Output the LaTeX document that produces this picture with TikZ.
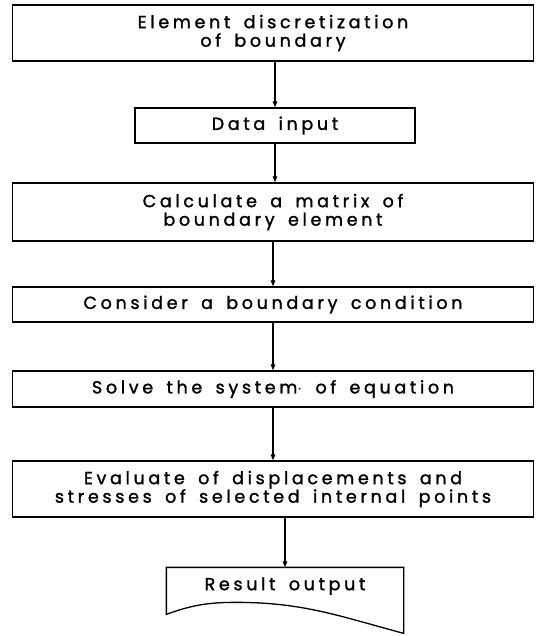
\documentclass[tikz,border=0pt]{standalone}
\usepackage{fontspec}
\setmainfont{Poppins}[LetterSpace=21, WordSpace=1.6, FakeBold=1.5]
\usetikzlibrary{calc, positioning, arrows.meta}

\begin{document}
\begin{tikzpicture}[x=1pt, y=1pt,
  stepbox/.style={draw, line width=1.3pt, inner sep=0pt, align=center,
    minimum width=521pt, font=\fontsize{17.5}{18.5}\selectfont},
  flow/.style={line width=1.2pt, -{Triangle[length=6pt, width=4.5pt]}}]
  \useasboundingbox (0,0) rectangle (545,-636);

  % Steps of the program
  \node[stepbox, minimum height=56pt] (elem) at (273,-33)
    {Element discretization\\of boundary};
  \node[stepbox, minimum width=280pt, minimum height=35pt] (data) at (275,-125.5)
    {Data input};
  \node[stepbox, minimum height=58pt] (calc) at (273,-212)
    {Calculate a matrix of\\boundary element};
  \node[stepbox, minimum height=35pt] (cond) at (273,-304.5)
    {Consider a boundary condition};
  \node[stepbox, minimum height=36pt] (solve) at (273,-389)
    {Solve the system$\cdot$ of equation};
  \node[stepbox, minimum height=56pt] (eval) at (273,-489)
    {Evaluate of displacements and\\stresses of selected internal points};

  % Output document
  \node[stepbox, draw=none, minimum width=236pt, minimum height=36pt] (out) at (285,-586)
    {Result output};
  \draw[line width=1.3pt] (out.north west) -- ++(0,-47)
    to[out=20, in=180] ++(70,12)
    to[out=0, in=165] ($(out.north east)+(0,-66)$) -- (out.north east) -- cycle;

  % Arrows
  \draw[flow] (elem.south -| data.north) -- (data.north);
  \draw[flow] (data.south) -- (data.south |- calc.north);
  \draw[flow] (calc.south) -- (cond.north);
  \draw[flow] (cond.south) -- (solve.north);
  \draw[flow] (solve.south) -- (eval.north);
  \draw[flow] (eval.south -| out.north) -- (out.north);
\end{tikzpicture}
\end{document}
